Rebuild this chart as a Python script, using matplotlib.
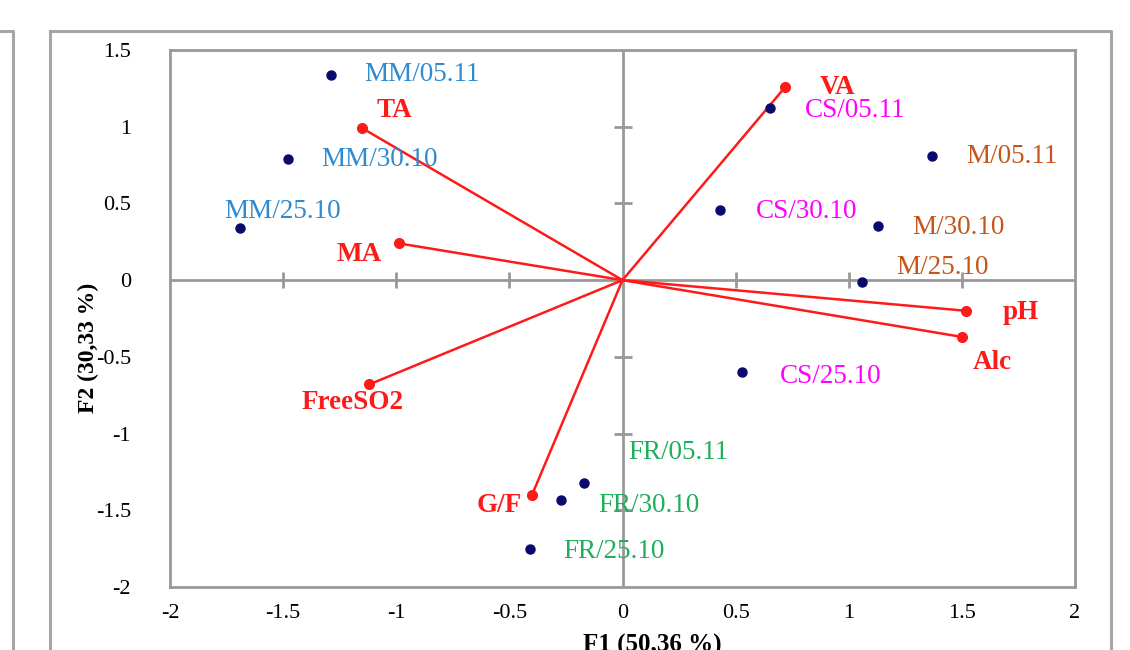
import matplotlib
matplotlib.use("Agg")
from matplotlib import pyplot as plt
from matplotlib.lines import Line2D

plt.rcParams['font.family'] = ['Liberation Serif', 'DejaVu Serif']

# observations (scores on F1, F2)
obs_names = ['MM/05.11', 'MM/30.10', 'MM/25.10',
             'CS/05.11', 'CS/30.10', 'CS/25.10',
             'M/05.11', 'M/30.10', 'M/25.10',
             'FR/05.11', 'FR/30.10', 'FR/25.10']
obs_f1 = [-1.29, -1.48, -1.69, 0.65, 0.43, 0.53, 1.37, 1.13, 1.06, -0.17, -0.27, -0.41]
obs_f2 = [1.34, 0.79, 0.34, 1.12, 0.46, -0.60, 0.81, 0.35, -0.01, -1.32, -1.43, -1.75]
obs_colors = ['#2f8ad0'] * 3 + ['#ff00ff'] * 3 + ['#c4561a'] * 3 + ['#1fae5a'] * 3

# variables (loadings)
var_names = ['VA', 'TA', 'MA', 'FreeSO2', 'G/F', 'pH', 'Alc']
var_f1 = [0.72, -1.15, -0.99, -1.12, -0.40, 1.52, 1.50]
var_f2 = [1.26, 0.99, 0.24, -0.68, -1.40, -0.20, -0.37]

# label offsets in pixels (dx, dy, ha)
obs_off = [(34, 0, 'left'), (34, -1, 'left'), (-16, 16, 'left'),
           (35, -2, 'left'), (36, -2, 'left'), (37, -4, 'left'),
           (34, -1, 'left'), (34, -1, 'left'), (34, 14, 'left'),
           (44, 30, 'left'), (37, -6, 'left'), (34, -3, 'left')]
var_off = [(34, -1, 'left'), (14, 18, 'left'), (-17, -11, 'right'),
           (-17, -18, 'center'), (-10, -11, 'right'), (36, -2, 'left'),
           (11, -26, 'left')]

fig = plt.figure(figsize=(11.3, 6.5), dpi=100)
ax = fig.add_axes([170/1130, 63/650, 905/1130, 537/650])

grey = '#999999'
ax.set_xlim(-2, 2)
ax.set_ylim(-2, 1.5)
ax.set_xticks([-2, -1.5, -1, -0.5, 0, 0.5, 1, 1.5, 2])
ax.set_xticklabels(['-2', '-1.5', '-1', '-0.5', '0', '0.5', '1', '1.5', '2'])
ax.set_yticks([-2, -1.5, -1, -0.5, 0, 0.5, 1, 1.5])
ax.set_yticklabels(['-2', '-1.5', '-1', '-0.5', '0', '0.5', '1', '1.5'])
ax.tick_params(length=0, labelsize=16, pad=0)
ax.tick_params(axis='x', pad=12)
ax.tick_params(axis='y', pad=28)
for s in ax.spines.values():
    s.set_color(grey)
    s.set_linewidth(2)

# zero lines with cross ticks
ax.axhline(0, color=grey, lw=2, zorder=1)
ax.axvline(0, color=grey, lw=2, zorder=1)
xt = [-1.5, -1, -0.5, 0.5, 1, 1.5]
yt = [-1.5, -1, -0.5, 0.5, 1]
ax.plot(xt, [0] * len(xt), ls='none', marker='|', markersize=11, mew=2, color=grey, zorder=1)
ax.plot([0] * len(yt), yt, ls='none', marker='_', markersize=13, mew=2, color=grey, zorder=1)

# variable vectors
for i in range(len(var_names)):
    ax.plot([0, var_f1[i]], [0, var_f2[i]], color='#ff1a1a', lw=1.8, zorder=2)
ax.plot(var_f1, var_f2, ls='none', marker='o', markersize=7, color='#ff1a1a', zorder=3)
for i, n in enumerate(var_names):
    dx, dy, ha = var_off[i]
    ax.annotate(n, (var_f1[i], var_f2[i]), xytext=(dx, dy), textcoords='offset pixels',
                ha=ha, va='center', color='#ff1a1a', fontsize=19.5, fontweight='bold')

# observations
ax.plot(obs_f1, obs_f2, ls='none', marker='o', markersize=6.5, color='#0a0a6e', zorder=4)
for i, n in enumerate(obs_names):
    dx, dy, ha = obs_off[i]
    ax.annotate(n, (obs_f1[i], obs_f2[i]), xytext=(dx, dy), textcoords='offset pixels',
                ha=ha, va='center', color=obs_colors[i], fontsize=19.5)

fig.text(88/1130, 1 - 348/650, 'F2 (30,33 %)', rotation=90, ha='center', va='center',
         fontsize=17, fontweight='bold')
fig.text(652/1130, 1 - 634/650, 'F1 (50,36 %)', ha='center', va='top',
         fontsize=18, fontweight='bold')

# surrounding frames
fcol = '#a6a6a6'
fig.add_artist(Line2D([50/1130, 1111/1130, 1111/1130], [1 - 31/650, 1 - 31/650, -0.1],
                      color=fcol, lw=2.2, transform=fig.transFigure))
fig.add_artist(Line2D([50/1130, 50/1130], [1 - 31/650, -0.1],
                      color=fcol, lw=2.2, transform=fig.transFigure))
fig.add_artist(Line2D([0, 13/1130, 13/1130], [1 - 31/650, 1 - 31/650, -0.1],
                      color=fcol, lw=2.2, transform=fig.transFigure))

fig.savefig('out.png', dpi=100)
